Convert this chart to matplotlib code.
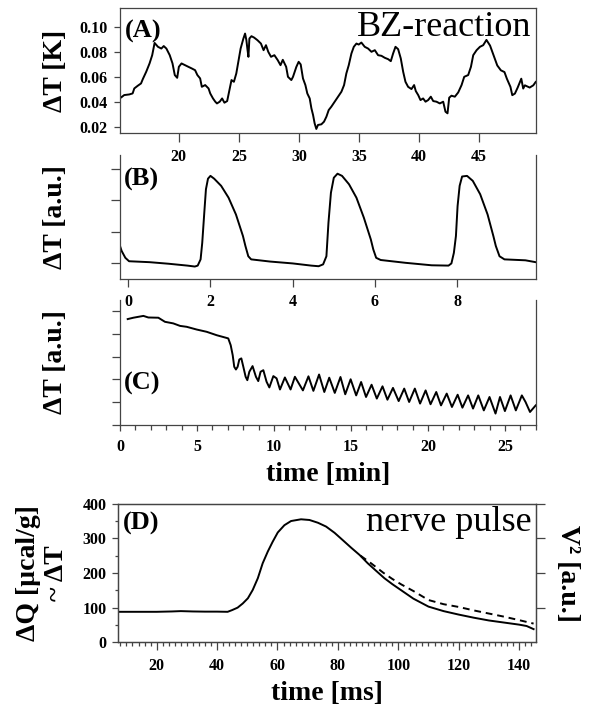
import matplotlib
matplotlib.use("Agg")
import matplotlib.pyplot as plt
from matplotlib.ticker import MultipleLocator

plt.rcParams['font.family'] = ['Liberation Serif', 'DejaVu Serif']
plt.rcParams['font.weight'] = 'bold'
plt.rcParams['axes.linewidth'] = 0.9
plt.rcParams['axes.edgecolor'] = '#444444'
plt.rcParams['xtick.color'] = '#444444'
plt.rcParams['ytick.color'] = '#444444'
plt.rcParams['xtick.labelcolor'] = 'black'
plt.rcParams['ytick.labelcolor'] = 'black'

# (A) BZ reaction, temperature in K vs time (min)
bz_t = [15.03, 15.17, 15.45, 15.87, 16.15, 16.29, 16.57, 16.85, 17.0, 17.28, 17.56, 17.78,
        17.98, 18.26, 18.54, 18.74, 18.96, 19.24, 19.47, 19.66, 19.86, 20.0, 20.22, 20.51,
        20.79, 21.07, 21.35, 21.54, 21.77, 21.91, 22.19, 22.47, 22.61, 22.84, 23.03, 23.17,
        23.4, 23.6, 23.79, 24.02, 24.24, 24.38, 24.58, 24.78, 25.0, 25.14, 25.37, 25.51,
        25.62, 25.7, 25.79, 25.87, 26.04, 26.26, 26.54, 26.83, 27.05, 27.25, 27.44, 27.67,
        27.95, 28.23, 28.46, 28.65, 28.93, 29.08, 29.36, 29.5, 29.78, 29.97, 30.14, 30.33,
        30.53, 30.69, 30.89, 31.03, 31.17, 31.3, 31.44, 31.58, 31.86, 32.08, 32.28, 32.47,
        32.69, 32.97, 33.25, 33.53, 33.75, 33.94, 34.14, 34.36, 34.56, 34.78, 34.97, 35.19,
        35.47, 35.75, 36.03, 36.31, 36.58, 36.86, 37.14, 37.42, 37.64, 37.83, 38.03, 38.25,
        38.47, 38.67, 38.86, 39.08, 39.36, 39.58, 39.72, 39.92, 40.11, 40.33, 40.53, 40.75,
        40.97, 41.17, 41.44, 41.72, 42.0, 42.19, 42.36, 42.5, 42.69, 42.97, 43.25, 43.53,
        43.75, 44.08, 44.31, 44.5, 44.78, 45.06, 45.33, 45.6, 45.9, 46.2, 46.5, 46.8,
        47.1, 47.3, 47.6, 47.75, 47.97, 48.2, 48.5, 48.66, 48.8, 49.2, 49.5, 49.7]
bz_dT = [0.0471, 0.0437, 0.0458, 0.0463, 0.0471, 0.0511, 0.0532, 0.0551, 0.0586, 0.0644, 0.0711, 0.0777,
         0.0875, 0.0844, 0.083, 0.085, 0.083, 0.0777, 0.0711, 0.0618, 0.0596, 0.0684, 0.0711, 0.0697,
         0.0684, 0.0671, 0.0657, 0.0618, 0.0591, 0.0524, 0.0538, 0.0511, 0.0471, 0.0431, 0.0405, 0.0391,
         0.0405, 0.0431, 0.0397, 0.041, 0.0511, 0.0578, 0.0564, 0.0631, 0.075, 0.083, 0.091, 0.095,
         0.0897, 0.083, 0.0764, 0.091, 0.0929, 0.0918, 0.0897, 0.087, 0.0817, 0.0857, 0.0804, 0.0764,
         0.0777, 0.0737, 0.0697, 0.0740, 0.0684, 0.0604, 0.0578, 0.0604, 0.0684, 0.0724, 0.0703, 0.0591,
         0.0538, 0.0471, 0.0431, 0.0352, 0.0298, 0.0232, 0.0187, 0.0219, 0.0224, 0.0245, 0.0285, 0.0338,
         0.0365, 0.0405, 0.0445, 0.0485, 0.0538, 0.0631, 0.0697, 0.079, 0.0844, 0.087, 0.0862, 0.0878,
         0.0844, 0.083, 0.0804, 0.0817, 0.0777, 0.0772, 0.0756, 0.0745, 0.0729, 0.079, 0.0844, 0.0825,
         0.0751, 0.0644, 0.0564, 0.0524, 0.0506, 0.0538, 0.049, 0.0458, 0.0418, 0.0431, 0.0405, 0.0418,
         0.0445, 0.041, 0.0405, 0.0391, 0.0405, 0.0325, 0.0312, 0.0437, 0.0453, 0.0445, 0.0479, 0.0538,
         0.0604, 0.0618, 0.0684, 0.0777, 0.0817, 0.0844, 0.0857, 0.0899, 0.0854, 0.0775, 0.0695, 0.0656,
         0.0642, 0.0589, 0.0523, 0.0457, 0.047, 0.0518, 0.0589, 0.051, 0.0536, 0.0518, 0.0536, 0.0563]

# (B) three heat pulses, a.u. vs time (min)
b_t = [-0.2, -0.16, -0.07, 0.02, 0.52, 0.98, 1.44, 1.62, 1.69, 1.76, 1.8, 1.85, 1.89, 1.94,
       2.0, 2.09, 2.26, 2.44, 2.62, 2.79, 2.85, 2.92, 2.99, 3.45, 4.0, 4.45, 4.63, 4.74,
       4.82, 4.87, 4.93, 5.0, 5.09, 5.2, 5.37, 5.55, 5.73, 5.9, 5.96, 6.03, 6.14, 6.74,
       7.38, 7.79, 7.86, 7.92, 7.97, 8.01, 8.06, 8.12, 8.24, 8.38, 8.56, 8.74, 8.88, 8.94,
       9.03, 9.15, 9.66, 9.91]
b_dT = [0.54, 0.38, 0.16, 0.05, 0.02, -0.03, -0.09, -0.12, -0.09, 0.11, 0.64, 1.61, 2.36, 2.7,
        2.79, 2.7, 2.47, 2.09, 1.55, 0.86, 0.54, 0.21, 0.11, 0.04, -0.02, -0.09, -0.11, -0.05,
        0.21, 1.29, 2.25, 2.73, 2.86, 2.79, 2.52, 2.09, 1.45, 0.75, 0.43, 0.16, 0.09, 0.0,
        -0.08, -0.09, -0.02, 0.32, 0.86, 1.82, 2.47, 2.77, 2.79, 2.63, 2.2, 1.55, 0.86, 0.54,
        0.21, 0.11, 0.08, 0.02]

# (C) onset of oscillations, a.u. vs time (min)
c_t = [0.5, 0.87, 1.52, 1.84, 2.49, 2.92, 3.46, 3.9, 4.33, 4.98, 5.63, 6.28, 7.03, 7.19,
       7.32, 7.42, 7.53, 7.64, 7.75, 7.88, 8.01, 8.16, 8.27, 8.4, 8.61, 8.83, 8.98, 9.13,
       9.31, 9.52, 9.7, 9.96, 10.17, 10.39, 10.71, 11.08, 11.36, 11.88, 12.24, 12.56, 12.93,
       13.27, 13.59, 13.95, 14.32, 14.63, 14.98, 15.34, 15.66, 15.98, 16.34, 16.68, 17.05,
       17.37, 17.73, 18.1, 18.46, 18.78, 19.15, 19.49, 19.85, 20.17, 20.54, 20.85, 21.22,
       21.56, 21.93, 22.24, 22.61, 22.93, 23.27, 23.63, 24.0, 24.39, 24.68, 25.0, 25.37,
       25.71, 26.1, 26.34, 26.63, 27.0]
c_dT = [4.65, 4.71, 4.79, 4.72, 4.71, 4.53, 4.46, 4.35, 4.31, 4.19, 4.09, 3.94, 3.8, 3.5,
        3.06, 2.55, 2.43, 2.55, 2.87, 2.92, 2.55, 2.11, 1.96, 2.33, 2.58, 2.11, 1.92, 2.33,
        2.4, 1.89, 1.64, 2.14, 2.04, 1.55, 2.08, 1.55, 2.11, 1.51, 2.13, 1.49, 2.21,
        1.44, 2.07, 1.40, 2.10, 1.34, 2.0, 1.29, 1.88, 1.22, 1.76, 1.15, 1.69,
        1.10, 1.62, 1.04, 1.59, 1.0, 1.59, 0.93, 1.51, 0.9, 1.44, 0.85, 1.37,
        0.78, 1.32, 0.75, 1.29, 0.71, 1.29, 0.63, 1.22, 0.49, 1.22, 0.6, 1.29,
        0.63, 1.29, 1.0, 0.56, 0.85]

# (D) nerve pulse: heat (solid) and V^2 (dashed) vs time (ms)
d_t = [7.3, 15, 20, 25, 28, 32, 36, 40, 43.5, 45, 46.8, 48.5, 50.2, 51.8, 53.5, 55.1,
       56.8, 58.4, 60.1, 62.3, 64.5, 67.8, 70.6, 73.4, 76.1, 78.9, 81.6, 84.4, 87.2,
       89.9, 92.7, 95.4, 98, 101, 105, 110, 115, 120, 125, 130, 135, 140, 142.5, 144.8]
d_heat = [88, 88, 88, 89, 90, 89, 88.5, 88.5, 88, 93, 100, 112, 127, 151, 185, 228,
          262, 290, 317, 338, 350, 355, 353, 345, 334, 316, 295, 273, 252,
          228, 206, 185, 168, 150, 126, 103, 90, 80, 71, 63, 57, 51, 47, 38]
v2_t = [87.5, 91, 95, 98, 101, 105, 110, 115, 120, 125, 130, 135, 140, 144.8]
v2 = [250, 228, 201, 183, 167, 148, 122, 110, 102, 92, 83, 74, 64, 54]

W, H = 589, 707
fig = plt.figure(figsize=(W / 100, H / 100), dpi=100)


def rect(left, top, right, bottom):
    # pixel box -> figure fraction
    return [left / W, 1 - bottom / H, (right - left) / W, (bottom - top) / H]


ax_a = fig.add_axes(rect(120, 8.3, 535.7, 132.7))
ax_b = fig.add_axes(rect(120, 155, 535.7, 279))
ax_c = fig.add_axes(rect(120, 300, 535.7, 424.7))
ax_d = fig.add_axes(rect(118.3, 503.7, 535.7, 642.3))
# panels sit close together: keep the backgrounds see-through so the
# tick labels of the panel above are not covered
for ax in (ax_a, ax_b, ax_c, ax_d):
    ax.patch.set_visible(False)

lw = 1.4
tick_fs = 11.5
lab_fs = 20

# --- (A)
ax_a.plot(bz_t, bz_dT, color='black', lw=lw)
ax_a.set_xlim(15.1, 49.7)
ax_a.set_ylim(0.0157, 0.1152)
ax_a.set_xticks([20, 25, 30, 35, 40, 45])
ax_a.set_yticks([0.02, 0.04, 0.06, 0.08, 0.10])
ax_a.set_yticklabels(['0.02', '0.04', '0.06', '0.08', '0.10'])
ax_a.tick_params(axis='x', direction='out', length=6.5, width=0.9, pad=5, labelsize=tick_fs)
ax_a.tick_params(axis='y', direction='out', length=4, width=0.9, pad=5, labelsize=tick_fs)
ax_a.set_ylabel('ΔT [K]', fontsize=lab_fs, fontweight='bold')
ax_a.yaxis.set_label_coords(-0.125, 0.5)
ax_a.annotate('(A)', xy=(0, 1), xycoords='axes fraction', xytext=(3.5, -20.9),
              textcoords='offset points', ha='left', va='baseline', fontsize=19, fontweight='bold')
ax_a.annotate('BZ-reaction', xy=(1, 1), xycoords='axes fraction', xytext=(-3.5, -20),
              textcoords='offset points', ha='right', va='baseline', fontsize=26, fontweight='normal')

# --- (B)
ax_b.plot(b_t, b_dT, color='black', lw=lw)
ax_b.set_xlim(-0.2, 9.91)
ax_b.set_ylim(-0.52, 3.46)
ax_b.set_xticks([0, 2, 4, 6, 8])
ax_b.set_yticks([0, 1, 2, 3])
ax_b.set_yticklabels([])
ax_b.spines['top'].set_visible(False)
ax_b.tick_params(axis='x', direction='out', length=5.5, width=0.9, pad=5.5, labelsize=tick_fs)
ax_b.tick_params(axis='y', direction='out', length=6.5, width=0.9)
ax_b.set_ylabel('ΔT [a.u.]', fontsize=lab_fs, fontweight='bold')
ax_b.yaxis.set_label_coords(-0.125, 0.5)
ax_b.annotate('(B)', xy=(0, 1), xycoords='axes fraction', xytext=(2.5, -22.3),
              textcoords='offset points', ha='left', va='baseline', fontsize=19, fontweight='bold')

# --- (C)
ax_c.plot(c_t, c_dT, color='black', lw=lw)
ax_c.set_xlim(0, 27)
ax_c.set_ylim(0, 5.49)
ax_c.xaxis.set_major_locator(MultipleLocator(5))
ax_c.xaxis.set_minor_locator(MultipleLocator(1))
ax_c.set_yticks([0, 1, 2, 3, 4, 5])
ax_c.set_yticklabels([])
ax_c.spines['top'].set_visible(False)
ax_c.tick_params(axis='x', which='major', direction='out', length=4.5, width=0.9, pad=5.5, labelsize=tick_fs)
ax_c.tick_params(axis='x', which='minor', direction='out', length=3.3, width=0.9)
ax_c.tick_params(axis='y', direction='out', length=6, width=0.9)
ax_c.set_ylabel('ΔT [a.u.]', fontsize=lab_fs, fontweight='bold')
ax_c.yaxis.set_label_coords(-0.125, 0.5)
ax_c.set_xlabel('time [min]', fontsize=lab_fs, fontweight='bold', labelpad=5)
ax_c.annotate('(C)', xy=(0, 0), xycoords='axes fraction', xytext=(2.5, 25.4),
              textcoords='offset points', ha='left', va='baseline', fontsize=19, fontweight='bold')

# --- (D)
ax_d.plot(d_t, d_heat, color='black', lw=lw)
ax_d.set_xlim(7.3, 145.5)
ax_d.set_ylim(0, 400)
ax_d.xaxis.set_major_locator(MultipleLocator(20))
ax_d.xaxis.set_minor_locator(MultipleLocator(2))
ax_d.yaxis.set_major_locator(MultipleLocator(100))
ax_d.yaxis.set_minor_locator(MultipleLocator(50))
ax_d.tick_params(axis='x', which='major', direction='out', length=6, width=0.9, pad=5.5, labelsize=tick_fs)
ax_d.tick_params(axis='x', which='minor', direction='out', length=3, width=0.9)
ax_d.tick_params(axis='y', which='major', direction='out', length=4, width=0.9, pad=4.5, labelsize=tick_fs)
ax_d.tick_params(axis='y', which='minor', direction='out', length=2.4, width=0.9)
ax_d.set_ylabel('ΔQ [µcal/g]\n~ ΔT', fontsize=lab_fs, fontweight='bold', linespacing=1.15)
ax_d.yaxis.set_label_coords(-0.118, 0.5)
ax_d.set_xlabel('time [ms]', fontsize=lab_fs, fontweight='bold', labelpad=5)
ax_d.annotate('(D)', xy=(0, 1), xycoords='axes fraction', xytext=(3.5, -18.7),
              textcoords='offset points', ha='left', va='baseline', fontsize=19, fontweight='bold')
ax_d.annotate('nerve pulse', xy=(1, 1), xycoords='axes fraction', xytext=(-3, -19.9),
              textcoords='offset points', ha='right', va='baseline', fontsize=26, fontweight='normal')

ax_r = ax_d.twinx()
ax_r.patch.set_visible(False)
ax_r.plot(v2_t, v2, color='black', lw=lw, ls=(0, (3.5, 2.5)))
ax_r.set_ylim(0, 400)
ax_r.set_yticks([100, 200, 300, 400])
ax_r.set_yticklabels([])
ax_r.tick_params(axis='y', direction='out', length=6.5, width=0.9)
ax_r.set_ylabel('V² [a.u.]', fontsize=lab_fs, fontweight='bold', rotation=270, va='bottom')
ax_r.yaxis.set_label_coords(1.046, 0.5)

fig.savefig('out.png', dpi=100)
